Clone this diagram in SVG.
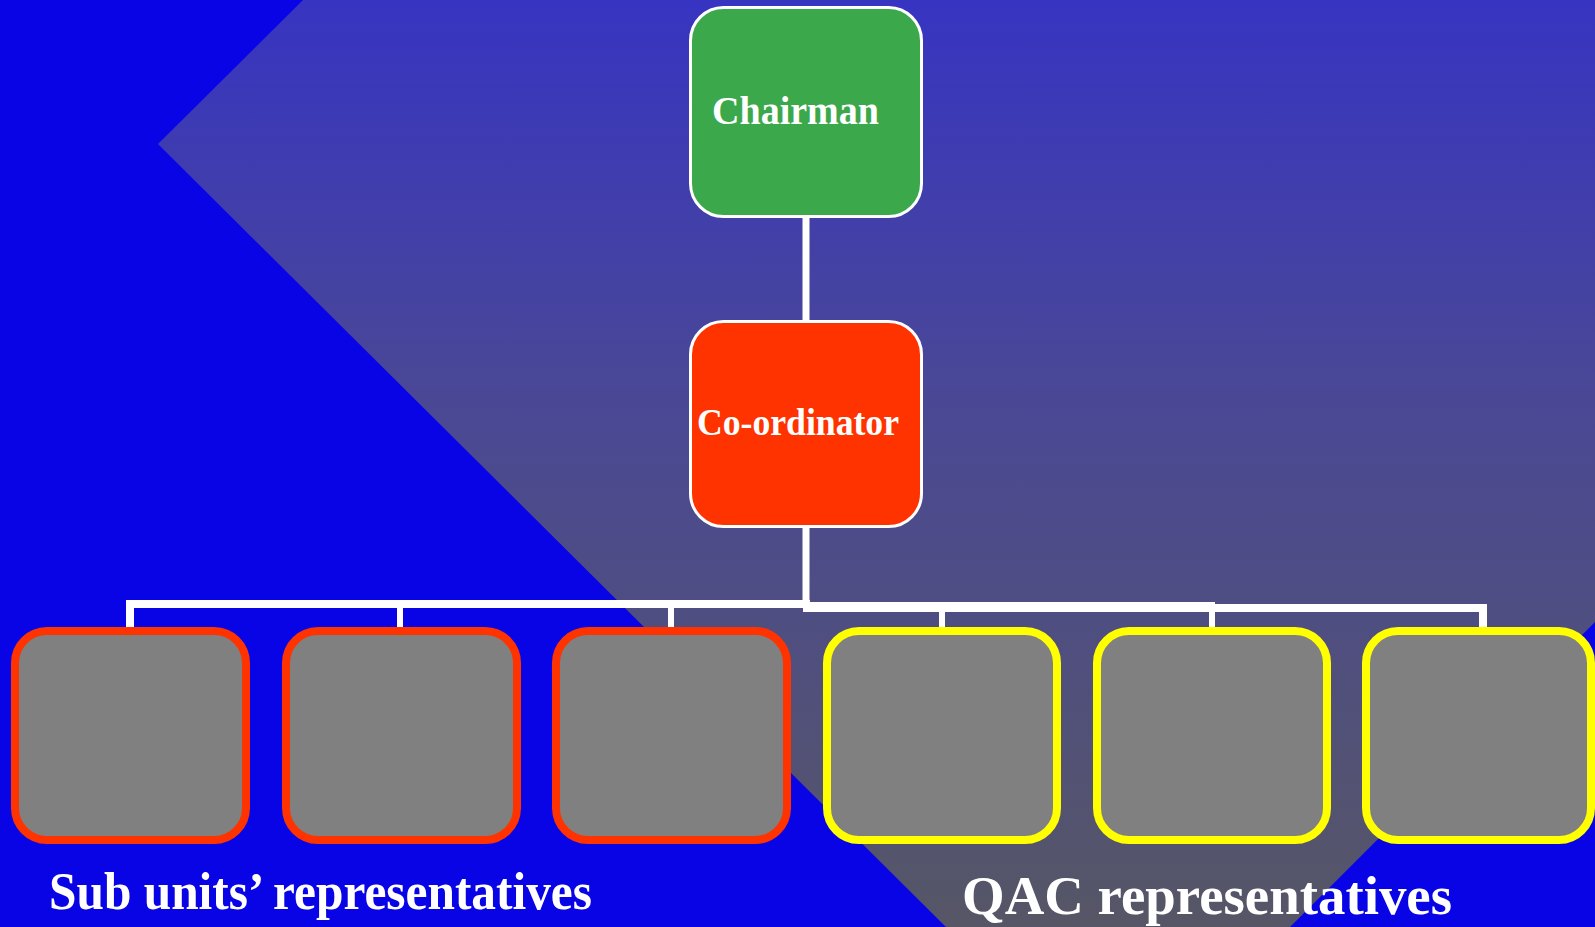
<svg xmlns="http://www.w3.org/2000/svg" width="1595" height="927" viewBox="0 0 1595 927">
<defs>
<linearGradient id="bgGrad" gradientUnits="userSpaceOnUse" x1="0" y1="0" x2="0" y2="927">
<stop offset="0" stop-color="#3734C2"/>
<stop offset="0.43" stop-color="#4A4895"/>
<stop offset="1" stop-color="#565666"/>
</linearGradient>
<style>
.top{stroke:#FFFFFF;stroke-width:3}
.sub{fill:#808080;stroke:#FF3300;stroke-width:8}
.qac{fill:#808080;stroke:#FFFF00;stroke-width:8}
.conn line{stroke:#FFFFFF;stroke-linecap:butt}
.lbl{font-family:"Liberation Serif","Times New Roman",serif;font-weight:bold;fill:#FFFFFF}
</style>
</defs>
<rect x="0" y="0" width="1595" height="927" fill="#0804E6"/>
<polygon points="303,0 1595,0 1595,622 1290,927 946,927 158,144" fill="url(#bgGrad)"/>

<g id="connectors" class="conn">
<line x1="806" y1="216" x2="806" y2="321" stroke-width="7"/>
<line x1="806" y1="528" x2="806" y2="608" stroke-width="7"/>
<line x1="126" y1="604" x2="810" y2="604" stroke-width="8"/>
<line x1="130" y1="600" x2="130" y2="630" stroke-width="8"/>
<line x1="400" y1="604" x2="400" y2="630" stroke-width="6"/>
<line x1="671" y1="604" x2="671" y2="630" stroke-width="6"/>
<line x1="803" y1="607" x2="1215" y2="607" stroke-width="10"/>
<line x1="1212" y1="608" x2="1487" y2="608" stroke-width="8"/>
<line x1="942" y1="607" x2="942" y2="630" stroke-width="6"/>
<line x1="1212" y1="607" x2="1212" y2="630" stroke-width="6"/>
<line x1="1483" y1="604" x2="1483" y2="630" stroke-width="8"/>
</g>

<g id="chairman">
<rect class="top" x="690.5" y="7.5" width="231" height="209" rx="33" ry="33" fill="#3CA84C"/>
<text class="lbl" x="712" y="124" font-size="40" textLength="167" lengthAdjust="spacingAndGlyphs">Chairman</text>
</g>
<g id="coordinator">
<rect class="top" x="690.5" y="321.5" width="231" height="205" rx="33" ry="33" fill="#FF3300"/>
<text class="lbl" x="697" y="435" font-size="38" textLength="202" lengthAdjust="spacingAndGlyphs">Co-ordinator</text>
</g>

<g id="sub1"><rect class="sub" x="15" y="631" width="231" height="209" rx="32" ry="32"/></g>
<g id="sub2"><rect class="sub" x="286" y="631" width="231" height="209" rx="32" ry="32"/></g>
<g id="sub3"><rect class="sub" x="556" y="631" width="231" height="209" rx="32" ry="32"/></g>
<g id="qac1"><rect class="qac" x="827" y="631" width="230" height="209" rx="32" ry="32"/></g>
<g id="qac2"><rect class="qac" x="1097" y="631" width="230" height="209" rx="32" ry="32"/></g>
<g id="qac3"><rect class="qac" x="1366" y="631" width="225" height="209" rx="32" ry="32"/></g>

<g id="label-sub">
<text class="lbl" x="49" y="909" font-size="53" textLength="543" lengthAdjust="spacingAndGlyphs">Sub units’ representatives</text>
</g>
<g id="label-qac">
<text class="lbl" x="962" y="914" font-size="54" textLength="490" lengthAdjust="spacingAndGlyphs">QAC representatives</text>
</g>
</svg>
